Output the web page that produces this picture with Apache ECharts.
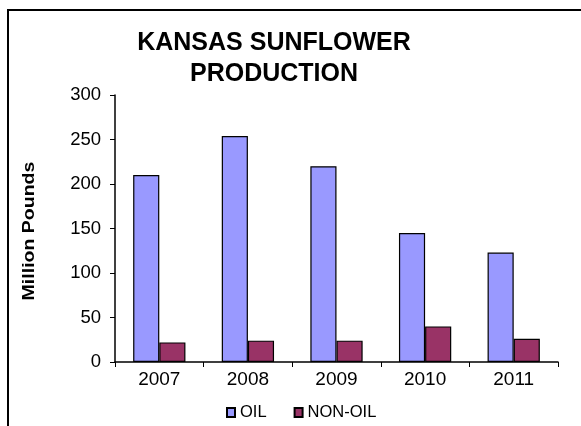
<!DOCTYPE html>
<html><head><meta charset="utf-8">
<script src="https://cdn.jsdelivr.net/npm/echarts@6/dist/echarts.min.js"></script>
<style>html,body{margin:0;padding:0;background:#fff}#c{width:581px;height:426px}</style>
</head><body><div id="c"></div>
<script>
const categories = ['2007','2008','2009','2010','2011'];
const oilValues = [210, 254, 220, 145, 123];
const nonOilValues = [22, 24, 24, 40, 26];
const yTicks = [0, 50, 100, 150, 200, 250, 300];
const yAxisTitle = 'Million Pounds';

const chart = echarts.init(document.getElementById('c'));
const font = 'Liberation Sans, Arial, sans-serif';
chart.setOption({
  animation: false,
  graphic: [{
    type: 'rect', shape: {x: 8, y: 10, width: 700, height: 600},
    style: {fill: 'none', stroke: '#000', lineWidth: 2}, silent: true
  }, {
    type: 'text', x: 30, y: 231, rotation: Math.PI / 2, scaleX: 1.22, silent: true,
    style: {text: yAxisTitle, fontFamily: font, fontWeight: 'bold', fontSize: 16,
            fill: '#000', align: 'center', verticalAlign: 'middle'}
  }],
  title: {
    text: 'KANSAS SUNFLOWER\nPRODUCTION',
    left: 269, top: 23, textAlign: 'center',
    textStyle: {fontFamily: font, fontWeight: 'bold', fontSize: 25, lineHeight: 31, color: '#000'}
  },
  legend: {
    top: 399, left: 221,
    itemWidth: 8, itemHeight: 9, itemGap: 27,
    textStyle: {fontFamily: font, fontSize: 16.5, color: '#000', padding: [0,0,0,0]},
    data: [{name: 'OIL', icon: 'rect'}, {name: 'NON-OIL', icon: 'rect'}]
  },
  grid: {left: 115, right: 23, top: 95, bottom: 64},
  xAxis: {
    type: 'category', data: categories,
    axisLine: {lineStyle: {color: '#000', width: 1.5}},
    axisTick: {show: true, length: 5, lineStyle: {color: '#000'}},
    axisLabel: {fontFamily: font, fontSize: 19, color: '#000', margin: 8}
  },
  yAxis: {
    type: 'value', min: yTicks[0], max: yTicks[yTicks.length-1], interval: 50,
    axisLine: {show: true, lineStyle: {color: '#000', width: 1.5}},
    axisTick: {show: true, length: 5, lineStyle: {color: '#000'}},
    splitLine: {show: false},
    axisLabel: {fontFamily: font, fontSize: 18.5, color: '#000', margin: 14}
  },
  series: [
    {name: 'OIL', type: 'bar', data: oilValues, barGap: '0%', barCategoryGap: '41%',
     itemStyle: {color: '#9999FF', borderColor: '#000', borderWidth: 1.2}},
    {name: 'NON-OIL', type: 'bar', data: nonOilValues,
     itemStyle: {color: '#993366', borderColor: '#000', borderWidth: 1.2}}
  ]
});
</script></body></html>
